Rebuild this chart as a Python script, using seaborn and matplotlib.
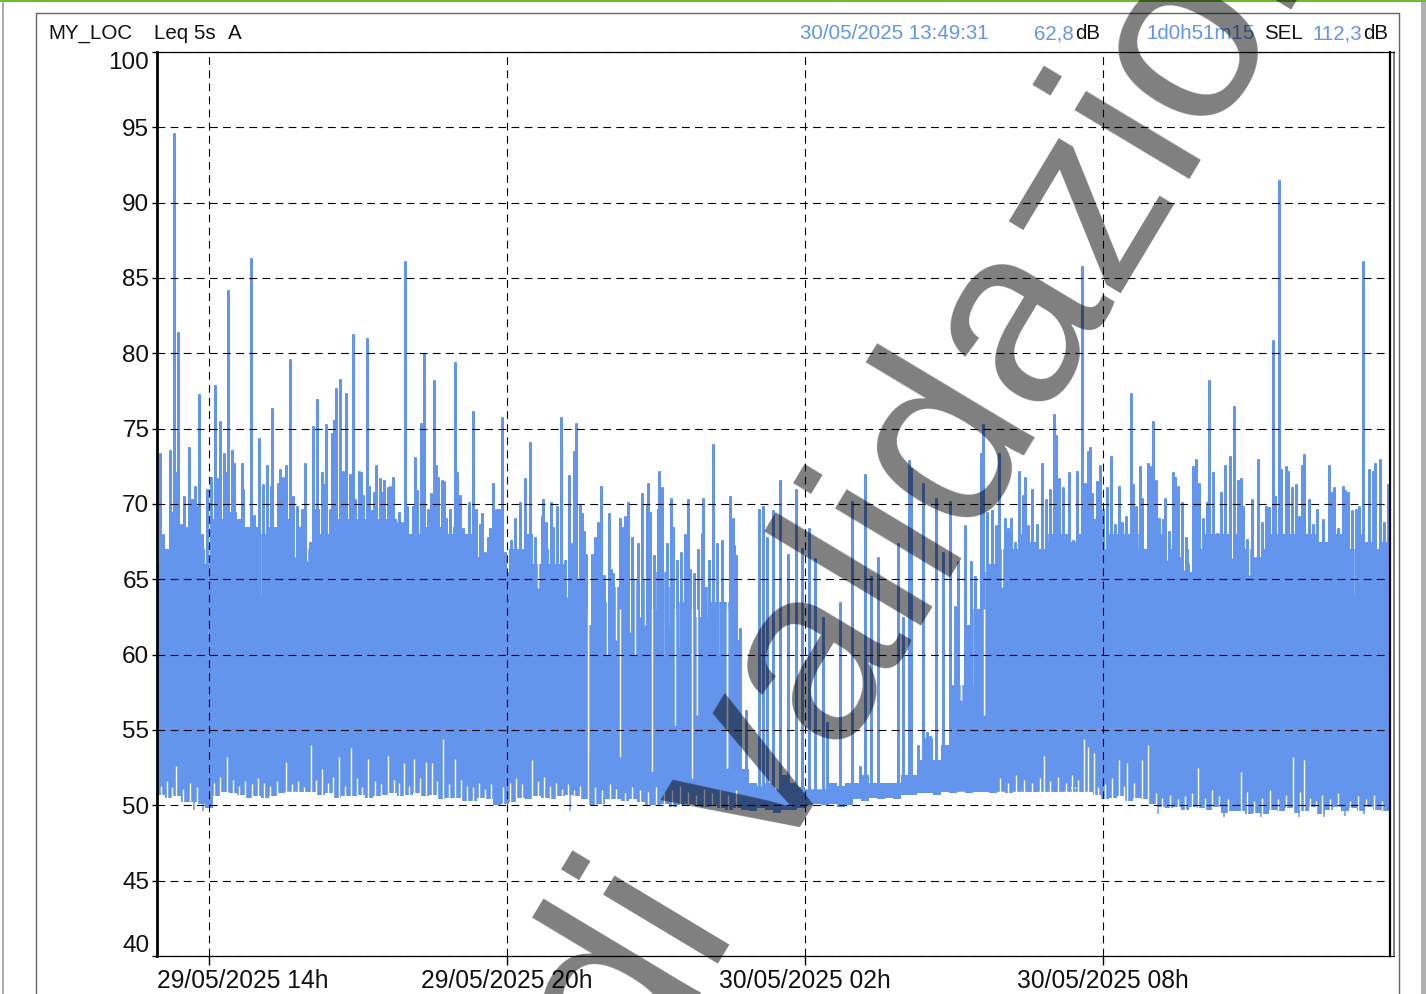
import numpy as np
import pandas as pd
import matplotlib
matplotlib.use("Agg")
import matplotlib.pyplot as plt
from matplotlib.lines import Line2D
from matplotlib.patches import Rectangle
from matplotlib.transforms import ScaledTranslation
import seaborn as sns

# ---------- data ----------
# Time is given in 72.5 s record blocks counted from 09:47:24
BLOCK_ORIGIN_H = 9.79
BLOCK_H = 0.02014

# Continuous level band: upper edge and lower edge, one pair per 8-block slot
band_top = [
    66, 67, 67, 68, 68, 67, 66, 69, 69, 69.5,
    69, 68.5, 68.5, 68, 68.5, 69, 69, 68.5, 67, 67.5,
    68, 68, 69, 69, 68.5, 69, 69, 69, 69, 69,
    68.5, 68, 68, 68.5, 68, 68.5, 68, 68.5, 68, 68,
    66.5, 66, 66.5, 65.5, 67, 67, 68, 66, 67, 66,
    66, 65, 65, 64.5, 62, 64.5, 63.5, 64.5, 65, 65,
    65, 64.5, 65.5, 65.5, 64.5, 63.5, 64.5, 62.5, 64.5, 63.5,
    63.5, 63.5, 61, 52.4, 51.5, 51.3, 51.5, 51, 52, 51.5,
    51.2, 51, 51, 51, 51.5, 51.3, 51.5, 51.5, 52, 51.5,
    51.5, 51.5, 51.5, 52, 52, 53, 54.5, 53, 54, 58,
    58, 62, 63, 65.5, 66, 67, 67, 67, 68, 67.5,
    67, 68, 68, 68, 67.5, 68, 69, 69, 67, 68,
    68, 68, 68, 67, 67, 68, 67, 66.5, 67, 65.5,
    67, 68, 68, 68, 68, 68, 67, 66.5, 67, 68,
    68, 68, 68, 68, 68, 67.5, 67.5, 68, 68, 67,
    68, 67.5, 67, 67.5,
]
band_floor = [
    50.7, 50.5, 50.6, 50.2, 50.2, 50.1, 49.8, 50.6, 50.9, 50.8,
    50.7, 50.5, 50.6, 50.5, 50.6, 50.8, 51, 51, 50.9, 50.9,
    50.7, 50.8, 50.5, 50.6, 50.6, 50.7, 50.5, 50.6, 50.7, 50.8,
    50.6, 50.7, 50.8, 50.6, 50.7, 50.4, 50.5, 50.5, 50.3, 50.3,
    50.5, 50.4, 50, 50.1, 50.2, 50.5, 50.4, 50.6, 50.5, 50.4,
    50.6, 50.7, 50.6, 50.4, 50, 50.1, 50.4, 50.4, 50.3, 50.4,
    50.2, 50, 50, 50.1, 49.9, 50, 50.1, 50, 49.9, 50,
    49.8, 49.7, 49.8, 49.7, 49.6, 49.8, 49.7, 49.5, 49.7, 49.7,
    49.8, 50, 50.1, 50, 50.1, 49.9, 50, 50.4, 50.3, 50.5,
    50.4, 50.5, 50.4, 50.7, 50.7, 50.8, 50.8, 50.7, 50.9, 50.8,
    51, 50.8, 50.9, 50.9, 50.8, 51, 50.8, 51, 51.1, 50.9,
    51, 51, 50.9, 51, 51.2, 50.9, 51.1, 50.7, 50.4, 50.5,
    50.6, 50.3, 50.5, 50.4, 50.1, 49.9, 49.8, 49.9, 49.7, 49.9,
    49.8, 49.7, 49.9, 49.5, 49.6, 49.6, 49.4, 49.5, 49.4, 49.7,
    49.6, 49.8, 49.5, 49.6, 49.9, 49.4, 49.7, 49.9, 49.6, 49.8,
    49.6, 49.9, 49.7, 49.6,
]

# Individual peaks, by part of the measurement
peak_block_a = [
    160, 162.7, 166, 170, 172, 174, 176, 178.3, 180.7, 183.7,
    186.7, 189.3, 191.7, 195, 197.3, 199, 202, 205, 207.3, 211,
    214.7, 216.7, 220.3, 224, 226, 228.3, 231.7, 234, 236.7, 241.7,
    243.3, 247.7, 251.3, 254, 259, 262.7, 266.7, 270.7, 272.3, 277.7,
    280, 282.7, 286, 290, 293.3, 296.7, 302.3, 305, 313, 315,
    316.7, 318.3, 321.7, 324, 326.3, 330, 332, 334.3, 336, 339.7,
    343.3, 345.7, 350, 353.3,
]
peak_db_a = [
    73.4, 68, 66.3, 73.6, 69.5, 94.6, 72.1, 81.4, 68.7, 70.5,
    68.5, 73.8, 70.3, 71.2, 69.9, 77.3, 68, 65.2, 71, 71.8,
    77.9, 71.7, 75.5, 73.4, 72.1, 84.2, 73.6, 72.7, 68.7, 72.7,
    71, 68.5, 86.3, 69.3, 74.4, 71.3, 72.6, 71.2, 76.4, 71.4,
    72.3, 71.8, 72.6, 79.6, 70.5, 69.9, 69.7, 72.7, 75.2, 69.7,
    77, 69.7, 72.1, 71.3, 75.3, 69.7, 74.7, 75.6, 77.7, 78.3,
    72.2, 77.4, 72, 81.3,
]
peak_block_b = [
    355.3, 359, 361, 362.7, 366.7, 368.7, 372, 374, 376.3, 380,
    382, 384, 388, 390, 393.3, 395.7, 399, 402.3, 405, 407.3,
    412.7, 415, 416.7, 420.7, 424.3, 426.7, 428.3, 431, 434.3, 436,
    438.3, 442, 443.7, 446, 450, 455.3, 457.3, 460, 463.3, 466.7,
    469.3, 472.7, 475.7, 480, 482, 485, 488.3, 490, 493.3, 495.7,
    499, 501.7, 505, 511,
]
peak_db_b = [
    70.3, 72.2, 72.1, 70.6, 81, 71.2, 69.6, 70.8, 72.6, 71.7,
    70.8, 71.6, 71.1, 71.2, 71.8, 68.8, 69.5, 68.8, 86.1, 69.9,
    69.9, 73.1, 70.9, 75.4, 80, 68.5, 69.7, 70.7, 78.2, 72.6,
    71.8, 71.6, 71.5, 69.1, 69.7, 79.4, 72.1, 70.6, 68.4, 68,
    70.1, 76.2, 69.7, 68.7, 69.4, 66.8, 67.8, 68.4, 71.4, 69.7,
    69.7, 75.8, 66.8, 67.6,
]
peak_block_c = [
    515.3, 520, 525, 530.3, 535, 541.7, 543.3, 546, 551.3, 553.3,
    557.3, 561, 565, 568.7, 572, 574.3, 576.3, 580, 582.3, 584.3,
    585.5, 591.7, 595.3, 597.7, 601.3, 603.7, 608.7, 611, 613.3, 620,
    622.7, 625, 628, 632.3, 638, 642, 646.7, 647.7, 650, 653.7,
    658.3, 659.3, 661.7, 666.7, 670.7, 673, 676.7, 680.7, 684.7, 687.7,
    690, 693.7, 697.7, 701.7, 703.3, 709, 712.7, 716.7, 722.3, 730,
    732.7, 734.3, 736,
]
peak_db_c = [
    69.1, 70.1, 71.7, 74.1, 67.8, 69.2, 70.3, 68.8, 70.1, 68.5,
    69.9, 75.8, 66.3, 71.9, 67.4, 73.5, 75.4, 70, 69.4, 68.2,
    66.7, 66.7, 67.8, 68.8, 71.2, 65.3, 69.4, 65.7, 65.4, 69.1,
    68.5, 69.2, 70.1, 67.8, 67.4, 70.7, 70, 71.4, 69.5, 66.6,
    69.7, 72.2, 71.1, 67.4, 70.4, 68.5, 66.3, 66.8, 68, 70.3,
    65.7, 65.4, 67, 68.1, 70.4, 66.3, 74, 67.4, 67.6, 70.5,
    69.1, 67.3, 66.6,
]
peak_block_d = [
    740, 746, 759, 763, 767, 773, 780, 788, 796, 802,
    809, 815, 823, 827, 840, 852, 865, 871, 878, 898,
    903, 909, 911, 923, 936, 943, 950, 955, 958, 965,
    971, 975, 981, 987, 860, 918, 927, 930,
]
peak_db_d = [
    61.8, 56.3, 69.7, 69.9, 67.8, 69.6, 71.6, 66.7, 71, 67.1,
    68.4, 66.4, 62.5, 55.5, 63.5, 70.2, 72, 65.2, 66.5, 67.4,
    62.5, 72.9, 72.4, 71.4, 70.4, 66.8, 70.2, 63.2, 66.2, 68.6,
    66.2, 65.2, 73.4, 69.5, 52.6, 54, 54.9, 54.6,
]
peak_block_e = [
    982.7, 991.7, 995.7, 999, 1005.3, 1008.3, 1010.7, 1015, 1019.3, 1022.7,
    1025, 1028.3, 1032.3, 1037.3, 1042, 1045.7, 1050, 1053.7, 1055.7, 1058.7,
    1063, 1069.3, 1073.3, 1076.7, 1082.3, 1085, 1087.7, 1090, 1092.3, 1096.7,
    1100, 1103.3, 1107.3, 1111, 1115, 1118.7, 1121.7, 1126, 1130.5, 1132.7,
    1135.7, 1140, 1142.3, 1147.7, 1150, 1153.3, 1155.7, 1159, 1163.3, 1165,
    1169, 1172.7, 1175, 1178.3, 1182, 1186, 1188.3, 1193.3, 1195.7, 1199.3,
    1203.3, 1206.7, 1209.3, 1213.3, 1217.3, 1220.7, 1225, 1230, 1234.3, 1237.7,
    1240.7, 1243.3, 1247.3, 1251.7, 1257.5, 1261.7, 1265.7, 1269, 1273, 1275,
    1278.7, 1281, 1286, 1288.3, 1292.3, 1296, 1299.3, 1301.7, 1304, 1309,
    1313.3, 1317.3, 1323.3, 1328.5, 1331, 1334, 1338.3, 1342.7, 1345, 1348,
    1351.7, 1355.7, 1359.3, 1363.3, 1368.7, 1372.7, 1375, 1380, 1384, 1388,
]
peak_db_e = [
    75.3, 69.6, 68.6, 73.4, 69.1, 68.4, 69.1, 67.5, 72.2, 70.6,
    71.8, 68.6, 71, 68.7, 72.7, 70.3, 71, 76, 74.6, 71.7,
    71.1, 72.1, 67.6, 72.2, 85.8, 71.4, 73.5, 73.8, 70.7, 71.5,
    72.6, 69.7, 71.1, 73.2, 68.7, 71.2, 68.8, 69.2, 77.4, 71.3,
    69.9, 72.5, 70.4, 72.7, 72.5, 75.5, 71.6, 69.1, 69, 70.4,
    68.2, 72.1, 71.8, 71.2, 70.1, 67.8, 66.1, 72.5, 73, 71.4,
    69.1, 70.1, 78.2, 72.1, 68.1, 70.8, 72.6, 73.2, 76.5, 71.6,
    71.7, 69.9, 67.7, 70.3, 73, 68.8, 69.9, 69.8, 80.9, 70.5,
    91.5, 72.3, 72.5, 72.2, 71.1, 71.3, 69.2, 72.6, 73.3, 70.3,
    68.7, 69.7, 69, 72.6, 70.8, 71.1, 68.4, 71.2, 70.9, 70.8,
    69.6, 69.7, 69.9, 86.1, 72.3, 72.2, 72.7, 73, 68.8, 71.3,
]

# Short drops of the level: the value the level falls to at each time
drop_block = [
    163, 207, 260, 295, 307, 342, 423, 497, 538, 567,
    588, 599, 607, 620, 635, 645, 652, 663, 675, 692,
    697, 713, 727, 961, 972, 984, 992, 1002, 1047, 1137,
    1167, 1184, 1232, 1249, 1255, 1353, 593, 603, 611, 616,
    624, 630, 640, 648, 657, 668, 680, 686, 703, 708,
    718, 722, 731,
]
drop_db = [
    64, 64.8, 64, 66.5, 66.2, 67, 67.5, 64.8, 64.4, 63.8,
    53.5, 61.7, 60, 53.2, 60, 62, 52.3, 60, 55.3, 51.8,
    56, 58, 52.5, 57, 58, 56, 60, 64.5, 67.5, 67,
    66.3, 65.6, 66.4, 65.3, 66.5, 64, 62, 60.5, 62.5, 61,
    63, 61.5, 62.5, 60, 63, 62, 60.5, 62, 61, 62.5,
    60, 61.5, 60,
]
# Quiet-side lifts of the lower edge
lift_block = [
    176, 227, 286, 311, 322, 339, 351, 368, 388, 404,
    414, 426, 432, 443, 455, 532, 588, 1044, 1084, 1088,
    1094, 1119, 1127, 1142, 1148, 1198, 1241, 1293, 1304,
    161, 167, 172, 183, 190, 197, 214, 220, 233, 239,
    245, 252, 258, 264, 270, 277, 292, 298, 304, 316,
    328, 333, 345, 357, 362, 375, 381, 394, 399, 409,
    420, 437, 449, 461, 467, 473, 479, 485, 491, 503,
    510, 516, 522, 538, 544, 550, 556, 562, 568, 574,
    580, 595, 602, 610, 616, 625, 632, 640, 648, 656,
    664, 672, 680, 688, 696, 704, 712, 720, 728, 736,
    1000, 1008, 1016, 1024, 1032, 1040, 1050, 1058, 1066, 1072,
    1078, 1098, 1105, 1112, 1124, 1134, 1156, 1162, 1170, 1178,
    1185, 1192, 1205, 1212, 1219, 1228, 1247, 1254, 1262, 1270,
    1278, 1286, 1300, 1310, 1316, 1322, 1330, 1338, 1350, 1358,
    1366, 1374, 1382,
]
lift_db = [
    52.6, 53.2, 52.9, 54, 52.4, 53.2, 53.8, 53.1, 53.3, 52.8,
    53.1, 52.9, 52.8, 54.4, 53.1, 53, 53.6, 53.3, 54.4, 53.9,
    53.5, 53, 52.8, 53, 54, 52.5, 52.2, 53.2, 53,
    51.3, 51.6, 51.2, 51.1, 51.5, 51.2, 51.5, 51.9, 51.7, 51.3,
    51.6, 51.4, 51.8, 51.5, 51.3, 51.6, 51.4, 51.6, 51.2, 51.7,
    51.5, 51.9, 51.3, 51.8, 51.2, 51.6, 51.4, 51.7, 51.5, 51.3,
    51.8, 51.6, 51.4, 51.7, 51.3, 51.2, 51.5, 51.1, 51.4, 51.2,
    51.5, 51.8, 51.4, 51.6, 51.9, 51.3, 51.5, 51.1, 51.4, 51,
    51.3, 51.2, 51, 51.4, 51.1, 50.8, 51.2, 51, 50.9, 51.2,
    50.8, 51, 51.3, 50.9, 50.7, 51.1, 50.8, 51, 50.7, 51,
    51.8, 51.5, 52, 51.7, 51.5, 51.8, 51.6, 51.9, 51.5, 52,
    51.7, 51.2, 51.4, 51.8, 51.3, 51.5, 50.8, 50.5, 50.7, 50.4,
    50.6, 50.8, 50.5, 51, 50.6, 50.4, 50.9, 50.3, 50.5, 51,
    50.4, 50.7, 50.9, 50.5, 50.3, 50.7, 50.4, 50.8, 50.3, 50.6,
    50.4, 50.7, 50.3,
]
# Lowest momentary readings
dip_block = [194, 203, 570, 1158, 1224, 1261, 1299, 1324, 1345, 1364]
dip_db = [49.7, 49.6, 49.6, 49.4, 49.2, 49.2, 49.2, 49.2, 49.3, 49.4]

y_ticks = [40, 45, 50, 55, 60, 65, 70, 75, 80, 85, 90, 95, 100]
x_tick_hours = [14, 20, 26, 32]
x_tick_labels = ["29/05/2025 14h", "29/05/2025 20h", "30/05/2025 02h", "30/05/2025 08h"]
watermark = "di validazione"
BLUE = "#6495ED"

W, H = 1426, 994


def hours(block):
    return BLOCK_ORIGIN_H + np.asarray(block, dtype=float) * BLOCK_H


def fx(px):
    return px / W


def fy(py):
    return 1 - py / H


sns.set_theme(style="white", rc={"font.family": ["Liberation Sans", "DejaVu Sans"]})
plt.rcParams["font.family"] = ["Liberation Sans", "DejaVu Sans"]

fig = plt.figure(figsize=(W / 100, H / 100), dpi=100, facecolor="white")
ax = fig.add_axes([fx(157), fy(956), (1390 - 157) / W, (956 - 52) / H])
ax.set_facecolor("white")

# level band
band_x = hours(157 + 8 * np.arange(len(band_top) + 1))
ax.fill_between(band_x, np.append(band_floor, band_floor[-1]), np.append(band_top, band_top[-1]),
                step="post", color=BLUE, lw=0, zorder=2)
ax.vlines(hours(dip_block), dip_db, 51, color=BLUE, lw=1.1, zorder=2.05)

# drops cut into the band, then the peaks over them
ax.vlines(hours(drop_block), drop_db, 70, color="white", lw=1.0, zorder=2.1)

peak_block = np.concatenate([peak_block_a, peak_block_b, peak_block_c, peak_block_d, peak_block_e])
peak_db = np.concatenate([peak_db_a, peak_db_b, peak_db_c, peak_db_d, peak_db_e])
order = np.argsort(peak_block)
peak_h = hours(peak_block[order])
peak_v = peak_db[order]
trace = pd.DataFrame({
    "hour": np.repeat(peak_h, 3),
    "level": np.column_stack([np.full_like(peak_v, 51.0), peak_v, np.full_like(peak_v, 51.0)]).ravel(),
})
sns.lineplot(data=trace, x="hour", y="level", sort=False, estimator=None, color=BLUE,
             lw=1.8, solid_joinstyle="bevel", ax=ax, zorder=2.2, legend=False)

# the deep drops stay open through the peak layer, and the lower edge gets its lifts
deep = np.asarray(drop_db) < 58
ax.vlines(hours(np.asarray(drop_block)[deep]), np.asarray(drop_db)[deep], 63, color="white", lw=1.0, zorder=2.3)
ax.vlines(hours(lift_block), 48.9, lift_db, color="white", lw=1.0, zorder=2.3)

# axes
ax.set_xlim(hours(157), hours(1390))
ax.set_ylim(40, 100)
ax.set_xlabel("")
ax.set_ylabel("")
ax.set_xticks(x_tick_hours)
ax.set_xticklabels(x_tick_labels, fontsize=17.7, color="#111111")
ax.set_yticks(y_ticks)
ax.set_yticklabels([str(v) for v in y_ticks], fontsize=17.5, color="#111111")
ax.tick_params(axis="x", length=6.5, width=1, color="black", pad=3.2, direction="out", bottom=True)
ax.tick_params(axis="y", length=3.5, width=1, color="black", pad=2, direction="out", left=True)
ax.grid(True, axis="both", color="black", lw=0.8, linestyle=(0, (7.0, 4.8)), zorder=3)
ax.set_axisbelow(False)
for lab, v in zip(ax.get_yticklabels(), y_ticks):
    if v == 100:
        lab.set_va("top")
    elif v == 40:
        lab.set_va("bottom")
        lab.set_transform(lab.get_transform() + ScaledTranslation(0, -0.01, fig.dpi_scale_trans))
first = ax.get_xticklabels()[0]
first.set_ha("left")
first.set_transform(first.get_transform() + ScaledTranslation(-0.52, 0, fig.dpi_scale_trans))

for name, sp in ax.spines.items():
    sp.set_visible(True)
    sp.set_color("black")
    sp.set_zorder(4)
ax.spines["left"].set_linewidth(2.0)
ax.spines["right"].set_linewidth(1.6)
ax.spines["top"].set_linewidth(0.9)
ax.spines["bottom"].set_linewidth(0.9)

# page furniture
fig.add_artist(Rectangle((0, fy(2.4)), 1, 2.4 / H, transform=fig.transFigure, fc="#6CBB2C", ec="none"))
fig.add_artist(Line2D([fx(2.7)] * 2, [0, fy(2.4)], color="#AAAAAA", lw=1.4))
fig.add_artist(Rectangle((fx(1421), 0), 5 / W, fy(2.4), transform=fig.transFigure, fc="#B0B0B0", ec="none"))
fig.add_artist(Line2D([fx(36), fx(36), fx(1399), fx(1399)], [0, fy(12.5), fy(12.5), 0],
                      color="#666666", lw=1.0))
fig.add_artist(Line2D([fx(1393.5)] * 2, [fy(956), fy(52)], color="#666666", lw=1.2))
fig.add_artist(Line2D([fx(1390), fx(1394)], [fy(956)] * 2, color="black", lw=0.8))
fig.add_artist(Line2D([fx(1390), fx(1394)], [fy(52)] * 2, color="black", lw=0.8))

# header
header = [
    (48, "MY_LOC", "#111111"), (154, "Leq 5s", "#111111"), (228, "A", "#111111"),
    (800, "30/05/2025 13:49:31", BLUE), (1034, "62,8", BLUE), (1075, "dB", "#111111"),
    (1147, "1d0h51m15", BLUE), (1264, "SEL", "#111111"), (1313, "112,3", BLUE), (1363, "dB", "#111111"),
]
for px, txt, col in header:
    fig.text(fx(px), fy(39), txt, color=col, fontsize=14.8, ha="left", va="baseline")

# watermark
fig.text(fx(637.6), fy(1098.2), watermark, rotation=59, rotation_mode="anchor", fontsize=182.3,
         color="black", alpha=0.5, ha="left", va="baseline", zorder=10)

fig.savefig("out.png", dpi=100, facecolor="white")
